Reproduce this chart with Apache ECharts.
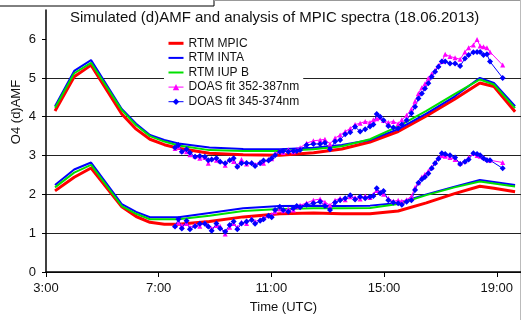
<!DOCTYPE html>
<html><head><meta charset="utf-8">
<script src="https://cdn.jsdelivr.net/npm/echarts@6/dist/echarts.min.js"></script>
<style>html,body{margin:0;padding:0;background:#fff}#c{width:521px;height:320px}</style>
</head><body><div id="c"></div>
<script>
// ---- data ----
const xTicks = [3, 7, 11, 15, 19];
const yTicks = [0, 1, 2, 3, 4, 5, 6];
const seriesNames = ['RTM MPIC', 'RTM INTA', 'RTM IUP B', 'DOAS fit 352-387nm', 'DOAS fit 345-374nm'];

const rtmTime = [3.32, 4.0, 4.6, 5.69, 6.2, 6.69, 7.2, 7.7, 8.8, 10, 11.3, 12.5, 13.5, 14.5, 15.5, 16.5, 17.5, 18.4, 18.9, 19.65];
const rtmMpicUpper = [4.15, 5.03, 5.33, 4.07, 3.68, 3.42, 3.28, 3.19, 3.06, 3.02, 3.01, 3.07, 3.17, 3.35, 3.62, 4.02, 4.45, 4.87, 4.78, 4.13];
const rtmIupUpper  = [4.23, 5.12, 5.39, 4.17, 3.78, 3.50, 3.36, 3.26, 3.14, 3.12, 3.12, 3.16, 3.24, 3.42, 3.75, 4.15, 4.58, 4.96, 4.83, 4.22];
const rtmIntaUpper = [4.27, 5.18, 5.46, 4.20, 3.82, 3.53, 3.40, 3.31, 3.21, 3.17, 3.16, 3.20, 3.27, 3.40, 3.68, 4.08, 4.52, 5.00, 4.87, 4.27];
const rtmMpicLower = [2.09, 2.44, 2.68, 1.68, 1.43, 1.28, 1.23, 1.23, 1.30, 1.42, 1.50, 1.52, 1.50, 1.50, 1.57, 1.78, 2.02, 2.21, 2.16, 2.07];
const rtmIupLower  = [2.18, 2.56, 2.76, 1.70, 1.50, 1.36, 1.36, 1.36, 1.45, 1.57, 1.62, 1.64, 1.64, 1.65, 1.75, 1.98, 2.18, 2.33, 2.28, 2.20];
const rtmIntaLower = [2.24, 2.64, 2.82, 1.75, 1.55, 1.41, 1.41, 1.41, 1.52, 1.64, 1.70, 1.71, 1.70, 1.71, 1.78, 2.00, 2.20, 2.37, 2.32, 2.24];

const doasTime = [7.58, 7.70, 7.82, 7.99, 8.11, 8.29, 8.46, 8.64, 8.76, 8.88, 9.05, 9.18, 9.36, 9.52, 9.66, 9.79, 9.94, 10.12, 10.3, 10.42,
  10.6, 10.72, 10.9, 11.01, 11.13, 11.3, 11.42, 11.6, 11.78, 11.9, 12.02, 12.25, 12.49, 12.73, 12.9, 13.08, 13.26, 13.44, 13.62, 13.8,
  13.97, 14.15, 14.33, 14.5, 14.62, 14.74, 14.86, 14.98, 15.15, 15.33, 15.5, 15.63, 15.8, 15.97, 16.1, 16.22, 16.34, 16.45, 16.57, 16.69,
  16.81, 16.93, 17.05, 17.17, 17.34, 17.52, 17.7, 17.87, 18.0, 18.17, 18.3, 18.41, 18.53, 18.65, 18.76, 19.21];
const doas352Upper = [3.18, 3.22, 3.12, 3.10, 3.02, 2.98, 2.93, 2.95, 2.80, 2.92, 2.88, 2.86, 2.75, 2.90, 2.85, 2.74, 2.90, 2.78, 2.82, 2.77,
  2.84, 2.80, 2.90, 2.92, 3.05, 3.12, 3.08, 3.15, 3.10, 3.16, 3.20, 3.32, 3.38, 3.40, 3.42, 3.30, 3.45, 3.53, 3.62, 3.70,
  3.80, 3.83, 3.88, 3.85, 3.92, 3.95, 3.98, 3.90, 3.85, 3.88, 3.82, 3.92, 4.04, 4.20, 4.40, 4.60, 4.75, 4.85, 4.99, 5.10,
  5.20, 5.32, 5.42, 5.61, 5.55, 5.52, 5.48, 5.67, 5.78, 5.85, 5.99, 5.82, 5.80, 5.78, 5.67, 5.33];
const doas345Upper = [3.21, 3.27, 3.10, 3.16, 3.07, 2.97, 2.99, 2.97, 2.88, 2.90, 2.93, 2.84, 2.80, 2.88, 2.93, 2.71, 2.80, 2.81, 2.80, 2.73,
  2.80, 2.87, 2.87, 2.93, 3.01, 3.10, 3.12, 3.10, 3.12, 3.12, 3.14, 3.27, 3.30, 3.30, 3.33, 3.16, 3.36, 3.40, 3.55, 3.60,
  3.74, 3.62, 3.68, 3.75, 3.80, 4.07, 4.00, 3.91, 3.76, 3.72, 3.70, 3.80, 3.91, 4.09, 4.26, 4.47, 4.60, 4.73, 4.86, 5.03,
  5.16, 5.29, 5.42, 5.42, 5.37, 5.37, 5.31, 5.50, 5.59, 5.66, 5.67, 5.67, 5.59, 5.61, 5.42, 5.00];
const doas352Lower = [1.20, 1.27, 1.20, 1.25, 1.15, 1.22, 1.18, 1.28, 1.20, 1.12, 1.20, 1.18, 0.98, 1.15, 1.25, 1.15, 1.28, 1.25, 1.38, 1.30,
  1.35, 1.40, 1.45, 1.48, 1.55, 1.62, 1.58, 1.62, 1.60, 1.68, 1.72, 1.78, 1.85, 1.88, 1.80, 1.72, 1.85, 1.90, 1.86, 1.94,
  1.92, 1.88, 1.96, 1.92, 2.00, 2.10, 2.06, 2.00, 1.90, 1.82, 1.85, 1.82, 1.86, 1.95, 2.18, 2.30, 2.45, 2.52, 2.60, 2.70,
  2.82, 2.95, 3.00, 2.98, 2.95, 2.90, 2.80, 2.86, 2.95, 3.05, 3.00, 2.98, 2.95, 2.90, 2.88, 2.82];
const doas345Lower = [1.17, 1.36, 1.12, 1.32, 1.10, 1.18, 1.24, 1.24, 1.17, 1.06, 1.25, 1.12, 1.04, 1.21, 1.30, 1.10, 1.25, 1.30, 1.34, 1.24,
  1.32, 1.36, 1.45, 1.41, 1.60, 1.68, 1.60, 1.55, 1.64, 1.70, 1.67, 1.73, 1.77, 1.81, 1.70, 1.60, 1.79, 1.85, 1.90, 1.98,
  1.87, 1.94, 1.90, 1.94, 1.96, 2.16, 2.03, 2.09, 1.85, 1.79, 1.77, 1.73, 1.81, 1.85, 2.11, 2.30, 2.39, 2.45, 2.54, 2.67,
  2.80, 2.92, 3.06, 3.04, 3.01, 2.95, 2.78, 2.84, 2.90, 3.06, 3.04, 3.01, 2.93, 2.88, 2.88, 2.67];

// ---- chart ----
const FONT = 'Liberation Sans, Arial, sans-serif';
const RED = '#ff0000', BLUE = '#0000ff', GREEN = '#00e000', MAG = '#ff00ff', DBLUE = '#0000ff';
const zip = (t, v) => t.map((x, i) => [x, v[i]]);

function rtm(name, t, v, color, width) {
  return { name, type: 'line', data: zip(t, v), symbol: 'none', smooth: false,
    lineStyle: { color, width }, itemStyle: { color }, silent: true, animation: false };
}
function doas(name, v, color, symbol, size) {
  return { name, type: 'line', data: zip(doasTime, v), symbol, symbolSize: size, showSymbol: true,
    lineStyle: { color, width: 1 }, itemStyle: { color }, silent: true, animation: false };
}

const chart = echarts.init(document.getElementById('c'), null, { renderer: 'canvas' });
chart.setOption({
  animation: false,
  backgroundColor: '#fff',
  title: { text: 'Simulated (d)AMF and analysis of MPIC spectra (18.06.2013)', left: 70, top: 10, padding: 0,
    textStyle: { fontFamily: FONT, fontSize: 15, fontWeight: 'normal', color: '#111' } },
  grid: { left: 46, right: 0, top: 10, bottom: 48, containLabel: false },
  legend: {
    orient: 'vertical', left: 164, top: 33, padding: [3, 4, 3, 4], itemGap: 0,
    itemWidth: 15, itemHeight: 8, backgroundColor: '#fff',
    textStyle: { fontFamily: FONT, fontSize: 12, color: '#111', lineHeight: 14.6 },
    data: [
      { name: seriesNames[0], icon: 'path://M0,0H15V3H0Z' },
      { name: seriesNames[1], icon: 'path://M0,0H15V2H0Z' },
      { name: seriesNames[2], icon: 'path://M0,0H15V2H0Z' },
      { name: seriesNames[3], lineStyle: { width: 1 } },
      { name: seriesNames[4], lineStyle: { width: 1 } }
    ]
  },
  xAxis: {
    type: 'value', min: 3, max: 19.86, interval: 4,
    name: 'Time (UTC)', nameLocation: 'middle', nameGap: 29,
    nameTextStyle: { fontFamily: FONT, fontSize: 13, color: '#111' },
    axisLine: { show: true, lineStyle: { color: '#000', width: 1.5 } },
    axisTick: { show: true, length: 5, customValues: xTicks, lineStyle: { color: '#000' } },
    axisLabel: { customValues: xTicks, margin: 10, fontFamily: FONT, fontSize: 13, color: '#111',
      formatter: v => Math.round(v) + ':00' },
    splitLine: { show: false }
  },
  yAxis: {
    type: 'value', min: 0, max: 6.75, interval: 1,
    axisLine: { show: true, lineStyle: { color: '#000', width: 1.5 } },
    axisTick: { show: true, length: 4, customValues: yTicks, lineStyle: { color: '#000' } },
    axisLabel: { customValues: yTicks, margin: 10, fontFamily: FONT, fontSize: 13, color: '#111' },
    splitLine: { show: true, showMaxLine: false, lineStyle: { color: '#222', width: 1 } }
  },
  graphic: [
    { type: 'text', x: 16, y: 112, rotation: Math.PI / 2,
      style: { text: 'O4 (d)AMF', font: '13px ' + FONT, fill: '#111', align: 'center', verticalAlign: 'middle' } },
    { type: 'line', shape: { x1: 0, y1: 6, x2: 214, y2: 6 }, style: { stroke: '#000', lineWidth: 1 } },
    { type: 'line', shape: { x1: 214, y1: 0, x2: 214, y2: 6 }, style: { stroke: '#000', lineWidth: 1 } },
    { type: 'line', shape: { x1: 214, y1: 0.5, x2: 521, y2: 0.5 }, style: { stroke: '#999', lineWidth: 1 } },
    { type: 'line', shape: { x1: 520.5, y1: 0, x2: 520.5, y2: 320 }, style: { stroke: '#bbb', lineWidth: 1 } }
  ],
  series: [
    rtm(seriesNames[0], rtmTime, rtmMpicUpper, RED, 3),
    rtm(seriesNames[1], rtmTime, rtmIntaUpper, BLUE, 2),
    rtm(seriesNames[2], rtmTime, rtmIupUpper, GREEN, 2),
    rtm(seriesNames[0], rtmTime, rtmMpicLower, RED, 3),
    rtm(seriesNames[1], rtmTime, rtmIntaLower, BLUE, 2),
    rtm(seriesNames[2], rtmTime, rtmIupLower, GREEN, 2),
    doas(seriesNames[3], doas352Upper, MAG, 'triangle', 5),
    doas(seriesNames[3], doas352Lower, MAG, 'triangle', 5),
    doas(seriesNames[4], doas345Upper, DBLUE, 'diamond', 6),
    doas(seriesNames[4], doas345Lower, DBLUE, 'diamond', 6)
  ]
});
</script></body></html>
